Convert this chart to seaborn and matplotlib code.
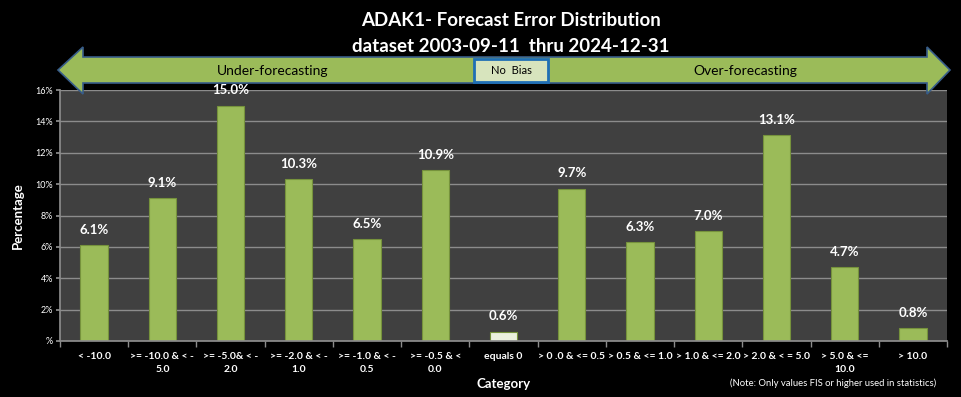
import numpy as np
import pandas as pd
import seaborn as sns
import matplotlib.pyplot as plt
from matplotlib.patches import Polygon, Rectangle
from matplotlib.ticker import FixedLocator

# data
categories = ['< -10.0', '>= -10.0 & < -\n5.0', '>= -5.0& < -\n2.0', '>= -2.0 & < -\n1.0',
              '>= -1.0 & < -\n0.5', '>= -0.5 & <\n0.0', 'equals 0', '> 0 .0 & <= 0.5',
              '> 0.5 & <= 1.0', '> 1.0 & <= 2.0', '> 2.0 & < = 5.0', '> 5.0 & <=\n10.0', '> 10.0']
percent = [6.1, 9.1, 15.0, 10.3, 6.5, 10.9, 0.6, 9.7, 6.3, 7.0, 13.1, 4.7, 0.8]
y_ticks = [0, 2, 4, 6, 8, 10, 12, 14, 16]

GREEN = '#9BBB59'
PALE = '#EBF1DE'

sns.set_theme(style='dark')
plt.rcParams['font.family'] = ['Lato', 'DejaVu Sans']

W, H = 961, 397
fig = plt.figure(figsize=(W / 100, H / 100), dpi=100)
fig.patch.set_facecolor('black')
ax = fig.add_axes([60 / W, 1 - 341 / H, (947 - 60) / W, (341 - 90) / H])
ax.set_facecolor('#404040')

df = pd.DataFrame({'cat': categories, 'pct': percent})
colors = [PALE if c == 'equals 0' else GREEN for c in categories]
sns.barplot(data=df, x='cat', y='pct', hue='cat', palette=colors, legend=False,
            width=0.4, ax=ax, edgecolor='#76923C', linewidth=0.8, saturation=1)

ax.set_ylim(0, 16)
ax.set_xlim(-0.5, len(categories) - 0.5)
ax.set_yticks(y_ticks)
ax.set_yticklabels(['%'] + ['%d%%' % t for t in y_ticks[1:]], color='white', fontsize=6.5)
ax.yaxis.grid(True, color='#8C8C8C', linewidth=1)
ax.set_axisbelow(True)
ax.tick_params(axis='y', length=3, color='#8C8C8C', left=True, pad=2)

ax.set_xticks(range(len(categories)))
ax.set_xticklabels(categories, color='white', fontsize=7.5, fontweight='bold', linespacing=1.5)
ax.tick_params(axis='x', length=0, pad=8)
ax.xaxis.set_minor_locator(FixedLocator(np.arange(-0.5, len(categories), 1)))
ax.tick_params(axis='x', which='minor', length=4, color='#8C8C8C', bottom=True)

for s in ['top', 'right']:
    ax.spines[s].set_visible(False)
for s in ['left', 'bottom']:
    ax.spines[s].set_color('#8C8C8C')

for i, v in enumerate(percent):
    ax.text(i, v + 0.6, '%.1f%%' % v, ha='center', va='bottom', color='white',
            fontsize=9.5, fontweight='bold')

ax.set_ylabel('Percentage', color='white', fontsize=9.5, fontweight='bold', labelpad=8)
ax.set_xlabel('Category', color='white', fontsize=9.5, fontweight='bold', labelpad=3)

fig.text(511 / W, 1 - 20 / H, 'ADAK1- Forecast Error Distribution', ha='center', va='center',
         color='white', fontsize=13.5, fontweight='bold')
fig.text(511 / W, 1 - 46 / H, 'dataset 2003-09-11  thru 2024-12-31', ha='center', va='center',
         color='white', fontsize=13.5, fontweight='bold')
fig.text(936 / W, 1 - 383 / H, '(Note: Only values FIS or higher used in statistics)',
         ha='right', va='center', color='white', fontsize=6.8)

# double-headed bias arrow (pixel coords -> figure fraction)
pts = [(58, 70), (83, 47), (83, 57), (927, 57), (927, 47), (950, 70),
       (927, 94), (927, 83), (83, 83), (83, 94)]
pts = [(x / W, 1 - y / H) for x, y in pts]
fig.patches.append(Polygon(pts, closed=True, transform=fig.transFigure, facecolor=GREEN,
                           edgecolor='#385D8A', linewidth=1.2, zorder=5))
fig.patches.append(Rectangle((474 / W, 1 - 82 / H), 74 / W, 23 / H, transform=fig.transFigure,
                             facecolor='#D7E4BD', edgecolor='#1F6FB5', linewidth=2, zorder=6))
fig.text(273 / W, 1 - 71 / H, 'Under-forecasting', ha='center', va='center', fontsize=10,
         color='black', zorder=7)
fig.text(511 / W, 1 - 71 / H, 'No  Bias', ha='center', va='center', fontsize=8,
         color='black', zorder=7)
fig.text(745 / W, 1 - 71 / H, 'Over-forecasting', ha='center', va='center', fontsize=10,
         color='black', zorder=7)

fig.savefig('out.png', dpi=100, facecolor='black')
